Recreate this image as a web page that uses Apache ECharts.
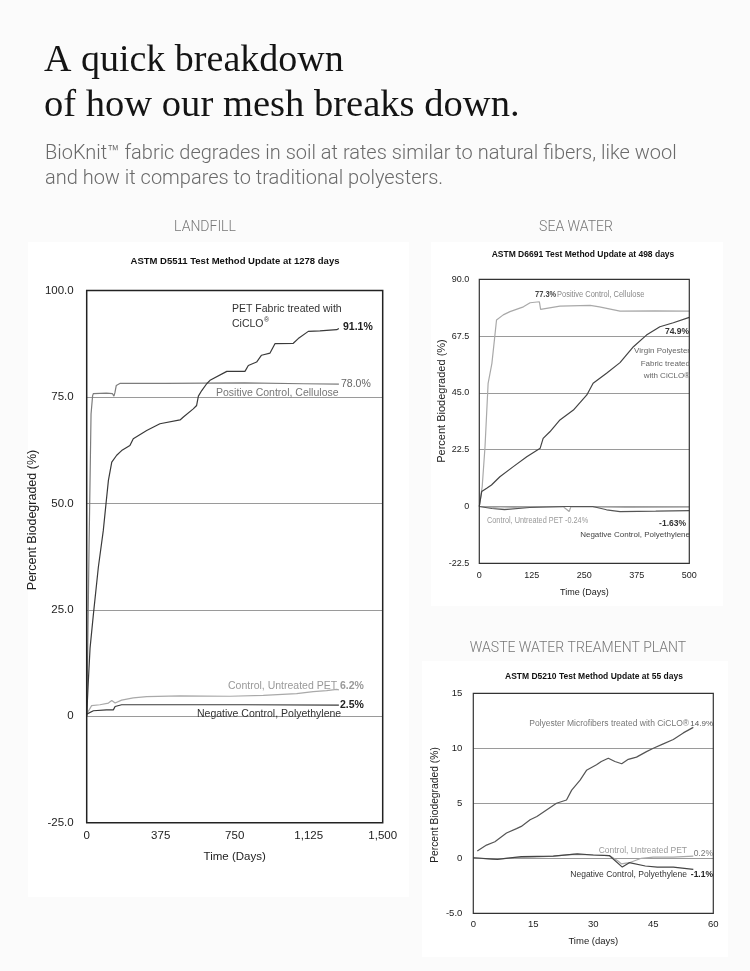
<!DOCTYPE html>
<html><head><meta charset="utf-8">
<script src="https://cdn.jsdelivr.net/npm/echarts@6/dist/echarts.min.js"></script>
<style>html,body{margin:0;padding:0;background:#fbfbfb}#c{width:750px;height:971px}</style>
</head><body><div id="c"></div>
<script>
// ---------- DATA ----------
// Landfill (ASTM D5511), [day, % biodegraded]
const lfTreated = [[0,0],[8,8],[17,16],[34,24],[59,35],[84,43.6],[98,50],[110,55.4],[127,59.7],[152,61.3],[177,62.4],[219,63.6],[236,65.2],[304,67.1],[371,68.7],[473,69.6],[490,70.3],[540,72.2],[557,73],[566,75.2],[583,76.5],[608,78.1],[625,78.9],[710,81],[802,81],[819,82.4],[861,83.2],[886,84.8],[929,85.3],[954,87.5],[1047,87.6],[1072,88.7],[1123,90.4],[1182,90.5],[1267,90.8],[1278,91.1]];
const lfCellulose = [[0,0],[5,15],[12,40],[22,71],[30,75.3],[34,75.8],[100,75.9],[130,75.8],[138,75.2],[143,76],[150,77.7],[170,78.2],[400,78.2],[800,78.3],[1100,78.1],[1278,78.0]];
const lfUntreated = [[0,0.8],[10,1.3],[25,2.5],[67,2.7],[110,3.1],[127,3.7],[144,3.1],[177,3.8],[236,4.3],[304,4.6],[473,4.8],[726,4.7],[895,4.9],[1064,5.3],[1148,5.8],[1216,6.0],[1267,6.3],[1278,6.2]];
const lfNegative = [[0,0.5],[10,0.9],[34,1.3],[100,1.5],[135,1.5],[144,2.3],[177,2.7],[400,2.7],[800,2.7],[1278,2.6]];
const lfXTicks = [0,375,750,1125,1500];
const lfXLabels = ['0','375','750','1,125','1,500'];
const lfYTicks = [-25,0,25,50,75,100];
const lfYLabels = ['-25.0','0','25.0','50.0','75.0','100.0'];

// Sea water (ASTM D6691)
const swCellulose = [[0,0],[7,8],[13.6,23.7],[21,48.8],[30,56.7],[36,66],[41,73.9],[57,75.9],[73,77.2],[105,79.1],[121,80.7],[143,81.1],[146,78.1],[192,79.4],[264,79.7],[286,79.1],[335,77.4],[418,77.5],[500,77.4]];
const swTreated = [[0,0],[5.7,5.9],[17.6,7.2],[29,8.5],[49,11.8],[81,15.8],[113,19.7],[145,23.1],[152,27],[168,29.6],[192,34.3],[224,38.2],[256,44.2],[271,48.8],[303,52.8],[335,57],[367,63.3],[398,67.9],[430,71.2],[462,72.8],[500,74.9]];
const swUntreated = [[0,0],[50,-0.6],[100,-0.3],[200,-0.1],[214,-2],[218,-0.1],[270,-0.2],[350,-0.4],[500,-0.24]];
const swNegative = [[0,0],[30,-0.8],[60,-1.2],[120,-0.4],[200,0],[270,0],[303,-1.3],[335,-2],[420,-1.8],[500,-1.6]];
const swXTicks = [0,125,250,375,500];
const swXLabels = ['0','125','250','375','500'];
const swYTicks = [-22.5,0,22.5,45,67.5,90];
const swYLabels = ['-22.5','0','22.5','45.0','67.5','90.0'];

// Waste water (ASTM D5210)
const wwTreated = [[1,0.66],[3.3,1.2],[5.4,1.5],[8.3,2.3],[10.8,2.7],[12,2.9],[14.2,3.5],[15.9,3.8],[18.3,4.4],[20.8,5],[23.3,5.3],[24.6,6.2],[26.7,7.1],[28.3,8.0],[30.8,8.5],[32,8.8],[33.75,9.1],[35.4,8.8],[37.1,8.6],[38.75,9.0],[40.8,9.2],[43.3,9.7],[45,10],[47.5,10.4],[50,10.8],[52.5,11.4],[55,11.9]];
const wwUntreated = [[0,0.05],[5,-0.1],[10,0.05],[15,0.1],[20,0.2],[25,0.35],[30,0.3],[34,0.25],[36,-0.2],[37,-0.5],[39,-0.4],[42,0],[45,0.1],[50,0.1],[55,0.2]];
const wwNegative = [[0,0.05],[6,-0.1],[12,0.15],[20,0.2],[26,0.4],[30,0.3],[34,0.25],[37.25,-0.8],[39,-0.4],[43,-0.7],[46,-0.8],[50,-0.8],[55,-1.0]];
const wwXTicks = [0,15,30,45,60];
const wwXLabels = ['0','15','30','45','60'];
const wwYTicks = [-5,0,5,10,15];
const wwYLabels = ['-5.0','0','5','10','15'];

const yName = 'Percent Biodegraded (%)';

// ---------- STYLE ----------
const SANS = '"Liberation Sans", Arial, sans-serif';
const DARK = '#3a3a3a', MID = '#7c7c7c', LIGHT = '#a9a9a9';

function lab(ticks, labels){ return v => { const i = ticks.findIndex(t => Math.abs(t - v) < 1e-6); return i >= 0 ? labels[i] : ''; }; }

function xAx(idx, min, max, interval, ticks, labels, name, fs, margin, nameGap){
  return { gridIndex: idx, type:'value', min, max, interval, name, nameLocation:'middle', nameGap,
    nameTextStyle:{fontFamily:SANS, fontSize:fs, color:'#222'},
    axisLine:{show:false}, axisTick:{show:false}, splitLine:{show:false},
    axisLabel:{formatter: lab(ticks, labels), fontFamily:SANS, fontSize:fs, color:'#222', margin} };
}
function yAx(idx, min, max, interval, ticks, labels, fs, margin){
  return { gridIndex: idx, type:'value', min, max, interval,
    axisLine:{show:false}, axisTick:{show:false},
    splitLine:{show:true, lineStyle:{color:'#9a9a9a', width:1}},
    axisLabel:{formatter: lab(ticks, labels), fontFamily:SANS, fontSize:fs, color:'#222', margin} };
}
function ln(idx, data, color, w){
  return { type:'line', xAxisIndex:idx, yAxisIndex:idx, data, symbol:'none', smooth:false,
    lineStyle:{color, width:w||1.2}, silent:true, animation:false, z:3 };
}
// yb = desired text baseline
function t(text, x, yb, size, color, opts){
  opts = opts || {};
  return { type:'text', x, y: yb - 0.8 * size, scaleX: opts.sx || 1, originX: 0, z: 20,
    style:{ text, fill: color, font: (opts.weight||'normal') + ' ' + size + 'px ' + (opts.family||SANS),
      textAlign: opts.align || 'left' } };
}
// vertical (rotated) axis name centred at cx, cy
function vt(text, cx, cy, size, color){
  return { type:'text', x: cx, y: cy, rotation: Math.PI/2, z: 20,
    style:{ text, fill: color, font: 'normal ' + size + 'px ' + SANS, textAlign:'center', textVerticalAlign:'middle', verticalAlign:'middle' } };
}

const graphic = [
  // panels
  {type:'rect', shape:{x:28,y:242,width:381,height:655}, style:{fill:'#ffffff'}, z:-10},
  {type:'rect', shape:{x:431,y:242,width:292,height:364}, style:{fill:'#ffffff'}, z:-10},
  {type:'rect', shape:{x:422,y:661,width:306,height:296}, style:{fill:'#ffffff'}, z:-10},
  // header
  t('A quick breakdown', 44, 72, 38, '#141414', {family:'"Liberation Serif", serif'}),
  t('of how our mesh breaks down.', 44, 117, 38, '#141414', {family:'"Liberation Serif", serif', sx:1.015}),
  t('BioKnit™ fabric degrades in soil at rates similar to natural fibers, like wool', 45, 160, 19.5, '#6a6a6a', {family:'Roboto, sans-serif', weight:300, sx:1.025}),
  t('and how it compares to traditional polyesters.', 45, 185, 19.5, '#6a6a6a', {family:'Roboto, sans-serif', weight:300, sx:1.025}),
  t('LANDFILL', 205, 232, 14, '#777', {family:'Roboto, sans-serif', weight:300, align:'center'}),
  t('SEA WATER', 576, 232, 14, '#777', {family:'Roboto, sans-serif', weight:300, align:'center'}),
  t('WASTE WATER TREAMENT PLANT', 578, 653, 14, '#777', {family:'Roboto, sans-serif', weight:300, align:'center'}),
  // chart titles
  t('ASTM D5511 Test Method Update at 1278 days', 235, 264, 9.5, '#111', {weight:'bold', align:'center'}),
  t('ASTM D6691 Test Method Update at 498 days', 583, 257, 8.5, '#111', {weight:'bold', align:'center'}),
  t('ASTM D5210 Test Method Update at 55 days', 594, 679, 8.5, '#111', {weight:'bold', align:'center'}),
  // y axis names
  vt(yName, 33, 520, 12.5, '#222'),
  vt(yName, 442, 401, 11, '#222'),
  vt(yName, 435, 805, 10.3, '#222'),
  // landfill annotations
  t('PET Fabric treated with', 232, 312, 10.5, '#333'),
  t('CiCLO', 232, 327, 10.5, '#333'),
  t('®', 264, 322, 7, '#333'),
  t('91.1%', 343, 330, 10.5, '#222', {weight:'bold'}),
  t('78.0%', 341, 387, 10.5, '#666'),
  t('Positive Control, Cellulose', 216, 396, 10.5, '#777'),
  t('Control, Untreated PET', 228, 689, 10.5, '#999'),
  t('6.2%', 340, 689, 10.5, '#999', {weight:'bold'}),
  t('2.5%', 340, 708, 10.5, '#222', {weight:'bold'}),
  t('Negative Control, Polyethylene', 197, 717, 10.5, '#333'),
  // sea water annotations
  t('77.3%', 535, 297, 8.5, '#444', {weight:'bold', sx:0.88}),
  t('Positive Control, Cellulose', 557, 297, 8.5, '#888', {sx:0.88}),
  t('74.9%', 689, 334, 8.5, '#333', {weight:'bold', align:'right'}),
  t('Virgin Polyester', 690, 353, 8, '#666', {align:'right'}),
  t('Fabric treated', 690, 366, 8, '#666', {align:'right'}),
  t('with CiCLO®', 690, 378, 8, '#666', {align:'right'}),
  t('Control, Untreated PET -0.24%', 487, 523, 8.5, '#999', {sx:0.86}),
  t('-1.63%', 686, 526, 8.5, '#333', {weight:'bold', align:'right'}),
  t('Negative Control, Polyethylene', 690, 537, 8, '#444', {align:'right'}),
  // waste water annotations
  t('Polyester Microfibers treated with CiCLO®', 689, 726, 8.5, '#777', {align:'right'}),
  t('14.9%', 713, 726, 8, '#555', {align:'right'}),
  t('Control, Untreated PET', 687, 853, 8.5, '#999', {align:'right'}),
  t('0.2%', 713, 856, 8.5, '#777', {align:'right'}),
  t('Negative Control, Polyethylene', 687, 877, 8.5, '#333', {align:'right'}),
  t('-1.1%', 713, 877, 8.5, '#222', {weight:'bold', align:'right'})
];

const option = {
  backgroundColor:'#fbfbfb',
  animation:false,
  grid:[
    {left:86.7, top:290.5, width:296, height:532.2, show:true, borderColor:'#222', borderWidth:1.5, backgroundColor:'transparent', z:4},
    {left:479.3, top:279.3, width:210, height:284, show:true, borderColor:'#333', borderWidth:1.2, backgroundColor:'transparent', z:4},
    {left:473.3, top:693.3, width:240, height:220, show:true, borderColor:'#333', borderWidth:1.2, backgroundColor:'transparent', z:4}
  ],
  xAxis:[
    xAx(0, 0, 1500, 375, lfXTicks, lfXLabels, 'Time (Days)', 11.5, 7, 28),
    xAx(1, 0, 500, 125, swXTicks, swXLabels, 'Time (Days)', 9, 8, 25),
    xAx(2, 0, 60, 15, wwXTicks, wwXLabels, 'Time (days)', 9.5, 6, 23)
  ],
  yAxis:[
    yAx(0, -25, 100, 25, lfYTicks, lfYLabels, 11.5, 13),
    yAx(1, -22.5, 90, 22.5, swYTicks, swYLabels, 9, 10),
    yAx(2, -5, 15, 5, wwYTicks, wwYLabels, 9.5, 11)
  ],
  series:[
    ln(0, lfCellulose, MID), ln(0, lfUntreated, LIGHT), ln(0, lfNegative, DARK), ln(0, lfTreated, DARK),
    ln(1, swCellulose, LIGHT), ln(1, swUntreated, LIGHT), ln(1, swNegative, '#555'), ln(1, swTreated, '#444'),
    ln(2, wwUntreated, LIGHT), ln(2, wwNegative, '#444'), ln(2, wwTreated, '#555')
  ],
  graphic
};
const chart = echarts.init(document.getElementById('c'), null, {renderer:'canvas'});
chart.setOption(option);
</script></body></html>
